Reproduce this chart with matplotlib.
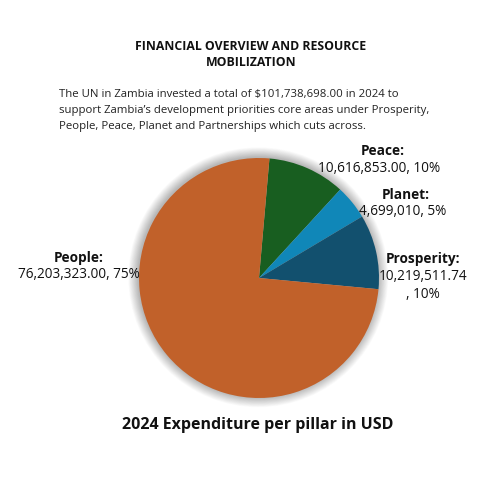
import matplotlib
matplotlib.use("Agg")
import matplotlib.pyplot as plt
from matplotlib.patches import Circle

plt.rcParams['font.family'] = ['Open Sans', 'DejaVu Sans']

pillars = ["Peace", "Planet", "Prosperity", "People"]
amounts = [10616853.00, 4699010, 10219511.74, 76203323.00]
amount_text = ["10,616,853.00", "4,699,010", "10,219,511.74", "76,203,323.00"]
percents = [10, 5, 10, 75]
colors = ["#185E20", "#1087B8", "#12506E", "#C1612A"]

W = H = 500
fig = plt.figure(figsize=(5, 5), dpi=100)
fig.patch.set_facecolor("white")

cx, cy, r = 259, 278, 120
ax = fig.add_axes([(cx - r * 1.1) / W, (H - cy - r * 1.1) / H, 2.2 * r / W, 2.2 * r / H])
ax.set_aspect("equal")
ax.axis("off")

# soft shadow glow
n = 24
for i in range(n):
    rr = 1.0 + 0.0035 * (n - i)
    ax.add_patch(Circle((-0.006, 0.006), rr, color="#000000", alpha=0.013, lw=0, zorder=0))

ax.pie(amounts, colors=colors, startangle=85, counterclock=False, radius=1.0,
       wedgeprops=dict(linewidth=0), center=(0, 0))
ax.set_xlim(-1.1, 1.1)
ax.set_ylim(-1.1, 1.1)

def t(x, y, s, **kw):
    fig.text(x / W, 1 - y / H, s, **kw)

t(251, 47, "FINANCIAL OVERVIEW AND RESOURCE", ha="center", va="center", fontsize=8.85, fontweight="bold", color="#111111")
t(251, 63, "MOBILIZATION", ha="center", va="center", fontsize=8.85, fontweight="bold", color="#111111")

para = ["The UN in Zambia invested a total of $101,738,698.00 in 2024 to",
        "support Zambia\u2019s development priorities core areas under Prosperity,",
        "People, Peace, Planet and Partnerships which cuts across."]
for i, line in enumerate(para):
    t(59, 94 + 16 * i, line, ha="left", va="center", fontsize=8.2, color="#222222")

lab = dict(fontsize=9.8, color="#111111", va="center", ha="center")
# Peace
t(383, 151, pillars[0] + ":", fontweight="bold", **lab)
t(379, 168, f"{amount_text[0]}, {percents[0]}%", **lab)
# Planet
t(406, 195, pillars[1] + ":", fontweight="bold", **lab)
t(403, 212, f"{amount_text[1]}, {percents[1]}%", **lab)
# Prosperity
t(423, 259, pillars[2] + ":", fontweight="bold", **lab)
t(423, 277, amount_text[2], **lab)
t(423, 294, f", {percents[2]}%", **lab)
# People
t(79, 258, pillars[3] + ":", fontweight="bold", **lab)
t(79, 275, f"{amount_text[3]}, {percents[3]}%", **lab)

t(258, 425, "2024 Expenditure per pillar in USD", ha="center", va="center", fontsize=11.5, fontweight="bold", color="#111111")

fig.savefig("out.png", dpi=100, facecolor="white")
